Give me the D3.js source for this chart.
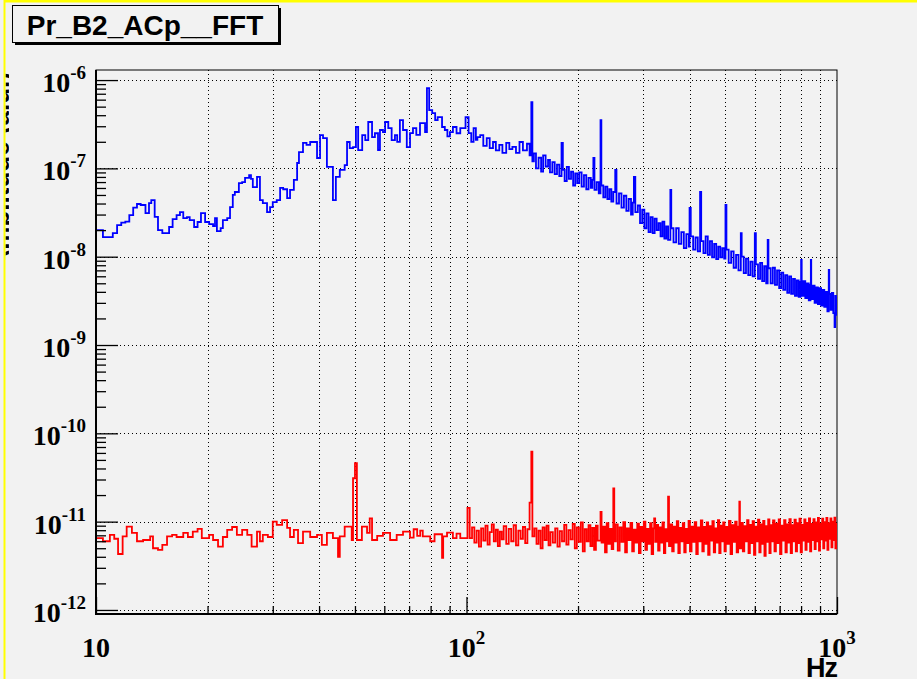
<!DOCTYPE html>
<html>
<head>
<meta charset="utf-8">
<script src="https://cdn.jsdelivr.net/npm/d3@7"></script>
<style>
  body { margin: 0; background: #f2f2f2; }
  svg { display: block; }
</style>
</head>
<body>
<svg id="chart" width="917" height="679"></svg>
<script>
// histogram title + axis stuff
const title = 'Pr_B2_ACp__FFT'
const xUnit = 'Hz'
const yTitle = 'Amplitude (a.u.)'
const yDecades = [-12, -11, -10, -9, -8, -7, -6]   // exponents of the y labels
const xDecades = [1, 2, 3]                          // 10, 10^2, 10^3

// blue channel: [Hz, amplitude in units of 1e-9]
const blueData = [
  [10.0,20],[10.44,16.7],[11.1,18.5],[11.4,22.8],[11.7,24.3],[12.0,24.9],[12.3,29.6],[12.6,35.9],
  [12.9,39.5],[13.2,38.5],[13.6,31.2],[13.9,40.5],[14.1,43.8],[14.4,28.3],[14.7,20],[15.1,18.5],
  [15.75,21.7],[16.1,26.7],[16.5,29.6],[16.85,32],[17.2,27.4],[17.6,28.1],[17.9,26],[18.4,21.7],
  [18.8,24.7],[19.2,31.2],[19.7,24.7],[20.2,23.4],[20.7,22.2],[20.95,27.4],[21.2,19.5],[21.7,21.1],
  [22.0,26],[22.6,27.4],[23.0,36.5],[23.4,50],[23.7,54],[24.3,68],[24.8,70],[25.25,78],[25.9,84],
  [26.2,76],[26.5,61.5],[27.2,80],[27.7,43.8],[28.2,40.5],[28.95,32],[29.5,36.5],[30.0,41.5],
  [30.75,43.8],[31.4,60],[32.0,58],[32.8,46],[33.4,57],[34.2,74],[34.9,115],[35.3,153],[36.2,194],
  [37.0,185],[37.85,199],[39.5,131],[40.25,238],[41.0,220],[42.0,104],[43.6,43.8],[44.4,80],[45.5,96],
  [46.9,109],[47.6,199],[48.4,170],[49.4,174],[50.3,294],[51.0,161],[52.3,238],[53.3,209],[54.3,335],
  [55.6,226],[56.6,250],[57.7,161],[58.4,272],[59.5,258],[60.3,335],[61.5,286],[62.8,209],[64.1,238],
  [65.0,200],[66.1,352],[67.4,272],[69.0,174],[70.4,251],[71.7,286],[73.2,240],[74.9,326],[77.3,258],
  [78.2,812],[79.3,457],[80.8,423],[82.3,352],[83.6,381],[85.9,294],[87.4,272],[88.8,230],[90.2,258],
  [91.9,294],[94,250],[96.2,286],[99.4,381],[101.3,251],[103,200],[104.5,286],[106,210],[107,226],
  [108.9,238],[111,180],[113.4,220],[115.5,170],[117.9,199],[120,160],[122.6,185],[125,150],[128,194],
  [130.5,165],[133,175],[136,150],[139,199],[142,160],[145.6,190],[148,140],[149.6,564],
  [150.6,120],[152,148],[154,100],[156.5,132],[159,92],[161,140],[163.5,105],[166,125],[168,90],
  [170.5,118],[173,86],[175.5,110],[178,82],[180.5,194],[182,96],[184,72],[186.5,104],[189,76],
  [191.5,92],[194,64],[196.5,88],[199,68],[201.5,90],[204.5,62],[207.5,84],[210.5,58],[213.5,78],
  [216.5,60],[218.5,74],[220,131],[221.5,57],[224.5,70],[227.5,52],[230,352],[231.2,64],[234,47],
  [237,62],[240,45],[243,58],[246,42],[249,54],[252,96],[254,40],[258,52],[262,36],[266,49],[270,33],
  [274,45],[278,30],[281,41],[283,80],[285.5,32],[290,38],[294,24],[298,34],[302,21],[306,31],[310,19],
  [314,28],[318,18.5],[322,27],[326,20],[330,24],[334,17],[338,25],[342,16],[346,22],[350,15.5],
  [355,57],[357,21],[362,14.5],[368,21],[374,14],[380,19],[386,12.5],[392,18],[398,13],[400,35.6],
  [403,17],[409,12],[415,16.5],[421,11.5],[427,54],[430,15],[436,11],[442,17],[448,10.5],[454,15],
  [460,9.8],[466,14],[472,9.4],[478,13],[484,9.8],[490,12.5],[496,9.5],[500,38.5],[503,12],[510,8.5],
  [518,11.5],[526,7.5],[534,10.5],[542,7],[550,18.5],[553,10],[560,6.5],[568,9.5],[576,6.2],[584,8.8],
  [592,6],[600,18.5],[604,8.2],[612,5.6],[620,8.5],[628,5.3],[636,7.8],[644,5],[650,15.5],[653,7.4],
  [662,5],[671,7.5],[680,4.8],[689,7],[698,4.4],[707,6.6],[716,4.2],[725,6.2],[734,3.9],[743,6],
  [752,3.8],[761,5.6],[770,3.6],[779,5.4],[788,3.5],[797,5.2],[800,9.2],[803,3.6],[812,5.3],[821,3.4],
  [830,5],[839,3.2],[848,4.8],[850,9.2],[852,3.3],[861,4.7],[870,3.0],[879,4.5],[888,2.9],[897,4.4],
  [906,2.8],[915,4.2],[924,2.7],[933,4],[942,2.4],[950,7.1],[953,3.8],[961,2.5],[969,3.9],[977,2.3],
  [985,1.6],[989,3.6],[994,2.2],[998,3.4]
]

// red channel: [Hz, amplitude in units of 1e-12]
const redData = [
  [10.0,6.5],[10.44,6.0],[10.9,7.07],[11.2,6.4],[11.47,4.3],[11.8,6.8],[12.1,8.8],[12.5,7.45],
  [12.9,6.0],[13.4,6.2],[14.0,6.8],[14.25,5.0],[14.7,4.8],[15.1,5.45],[15.55,6.8],[16.05,7.07],
  [16.5,6.7],[17.2,7.45],[17.7,6.7],[18.25,7.7],[18.8,8.3],[19.3,6.5],[20.2,7.07],[20.7,6.2],
  [21.35,5.2],[22.0,6.7],[22.6,8.05],[23.3,8.7],[24.0,7.07],[24.8,8.05],[25.6,7.07],[26.3,5.2],
  [27.2,7.7],[27.7,6.0],[28.2,7.07],[29.1,6.7],[30.0,10],[30.75,9.2],[31.8,10.4],[32.8,8.5],
  [33.4,6.7],[34.2,8.05],[35.1,5.7],[36.2,7.7],[37.85,6.7],[39.5,7.07],[40.7,5.45],[42.0,7.45],
  [43.6,6.5],[45.0,4.0],[45.5,6.8],[46.9,8.8],[49.0,6.2],[49.4,31],[50.0,46],[50.6,6.2],[52.2,8.8],
  [53.9,7.45],[54.8,10.9],[55.6,6.2],[57.4,6.9],[59.5,7.45],[62.2,6.2],[64.8,7.07],[67.4,7.7],
  [70.4,6.6],[72,8.2],[73.6,6.9],[75,7.9],[76.2,6.8],[79.8,6.0],[82,7.2],[85.9,3.9],[86.5,6.8],
  [88.6,7.5],[91.9,6.5],[94,7.3],[96.2,6.5],[100.6,14.3],[102,6.5],[103.5,8.6],[105,5.8],[106.5,7.9],
  [108,5.2],[109.5,8.4],[111,6.1],[112.5,9.0],[114,5.5],[115.5,7.6],[117,9.3],[118.5,6.0],[120,8.1],
  [121.5,5.3],[123,7.7],[124.5,6.3],[126,8.9],[128,5.6],[130,8.3],[132,6.0],[134,9.1],[136,5.4],
  [138,7.9],[140,6.4],[142,8.7],[144,5.7],[146,8.2],[148,16.4],[149.6,62],[150.6,6.8],[152.5,8.4],
  [154.5,5.6],[156.5,7.9],[158.5,5.0],[160.5,8.6],[162.5,6.2],[164.5,9.0],[166.5,5.4],[168.5,7.6],
  [171,5.8],[173.5,8.4],[176,5.2],[178.5,7.8],[181,6.0],[183.5,9.2],[186,5.5],[188.5,8.0],[191,6.3],
  [193.5,9.4],[196,5.0],[198.5,8.6],[201,5.9],[203.5,9.8],[206,4.6],[208.5,8.2],[211,6.0],[213.5,9.1],
  [216,5.3],[218.5,8.5],[221,4.8],[223.5,9.0],[226,6.1],[230,12.9],[231.5,5.8],[234,8.8],[236.5,4.5],
  [239,9.6],[241.5,5.6],[244,8.3],[246.5,4.9],[249,23.8],[250.5,6.0],[253,9.3],[256,4.7],[259,8.6],
  [262,5.9],[265,9.9],[268,4.5],[271,8.4],[274,6.2],[277,9.7],[280,4.6],[283,8.1],[286,5.8],[289,9.5],
  [292,4.4],[295,8.7],[298,6.0],[301,10.0],[304,4.8],[307,8.3],[310,5.6],[313,9.6],[316,4.3],[319,8.4],
  [321,10.9],[323,5.9],[326,9.2],[329,4.7],[332,8.6],[335,5.8],[338,9.8],[341,4.4],[344,8.2],[347,6.0],
  [350,19.2],[352,5.3],[355.5,9.3],[359,4.6],[362.5,8.8],[366,5.8],[369.5,10.1],[373,4.4],[376.5,8.5],
  [380,6.0],[383.5,9.6],[387,4.5],[390.5,8.3],[394,5.7],[397.5,10.2],[401,4.6],[405,8.8],[409,5.9],
  [413,9.9],[417,4.3],[421,8.6],[425,6.0],[429,10.3],[433,4.6],[437,8.7],[441,5.6],[445,9.8],[449,4.2],
  [453,8.9],[457,6.1],[461,10.1],[465,4.5],[469,8.4],[473,5.8],[477,10.4],[481,4.4],[485,9.0],[489,6.0],
  [493,9.8],[497,4.6],[501,8.7],[506,5.6],[511,10.2],[516,4.3],[521,9.1],[526,5.9],[531,10.0],[536,4.5],
  [541,8.8],[545,16.8],[547,5.0],[552,9.7],[557,4.6],[562,8.9],[567,6.0],[572,10.4],[577,4.4],[582,9.2],
  [587,5.7],[592,10.1],[597,4.2],[602,8.8],[607,6.0],[612,10.5],[617,4.5],[622,9.3],[627,5.6],[632,10.2],
  [637,4.1],[642,8.9],[647,5.9],[652,10.6],[657,4.4],[662,9.1],[667,6.0],[672,10.3],[678,4.6],[684,9.5],
  [690,5.7],[696,10.6],[702,4.3],[708,9.0],[714,6.1],[720,10.4],[726,4.5],[732,9.3],[738,5.8],[744,10.7],
  [750,4.4],[756,9.1],[762,6.0],[768,10.5],[774,4.6],[780,9.6],[786,5.7],[792,10.8],[798,4.5],[804,9.2],
  [810,6.1],[816,10.6],[822,4.8],[828,9.7],[834,5.9],[840,10.9],[846,4.6],[852,9.4],[858,6.2],[864,10.7],
  [870,4.9],[876,9.8],[882,6.0],[888,11.0],[894,4.7],[900,9.5],[906,6.3],[912,10.8],[918,5.0],[924,9.9],
  [930,6.1],[936,11.0],[942,4.8],[948,9.6],[954,6.4],[960,10.9],[966,5.1],[972,10.0],[978,6.2],[984,11.1],
  [990,5.0],[996,9.4]
]

const svg = d3.select('#chart')
const frame = {left: 96, right: 837, top: 70, bottom: 614}

const x = d3.scaleLog().domain([10, 1000]).range([frame.left, frame.right])
const y = d3.scaleLog().domain([9.0e-13, 1.3e-6]).range([frame.bottom, frame.top])

// frame
svg.append('rect')
  .attr('x', frame.left).attr('y', frame.top)
  .attr('width', frame.right - frame.left).attr('height', frame.bottom - frame.top)
  .attr('fill', '#f2f2f2').attr('stroke', '#000').attr('stroke-width', 1)

// grid
const minorX = []
xDecades.slice(0, 2).forEach(e => { for (let k = 1; k < 10; k++) minorX.push(k * Math.pow(10, e)) })
const decadesY = yDecades.map(e => Math.pow(10, e))
const minorY = []
yDecades.forEach(e => { for (let k = 2; k < 10; k++) { const v = k * Math.pow(10, e); if (v < y.domain()[1]) minorY.push(v) } })

const grid = svg.append('g').attr('stroke', '#000').attr('stroke-dasharray', '1,3').attr('stroke-width', 1)
grid.selectAll('.gx').data(minorX.filter(v => v > 10)).join('line')
  .attr('x1', d => Math.round(x(d)) + 0.5).attr('x2', d => Math.round(x(d)) + 0.5)
  .attr('y1', frame.top).attr('y2', frame.bottom)
grid.selectAll('.gy').data(decadesY).join('line')
  .attr('y1', d => Math.round(y(d)) + 0.5).attr('y2', d => Math.round(y(d)) + 0.5)
  .attr('x1', frame.left).attr('x2', frame.right)

// data
svg.append('clipPath').attr('id', 'clip').append('rect')
  .attr('x', frame.left).attr('y', frame.top)
  .attr('width', frame.right - frame.left).attr('height', frame.bottom - frame.top)

const stepLine = scale => d3.line()
  .x(d => x(d[0]))
  .y(d => y(d[1] * scale))
  .curve(d3.curveStepAfter)

const withEnd = data => data.concat([[1000, data[data.length - 1][1]]])

svg.append('path').datum(withEnd(redData))
  .attr('clip-path', 'url(#clip)')
  .attr('fill', 'none').attr('stroke', '#ff0000').attr('stroke-width', 1.8)
  .attr('d', stepLine(1e-12))

svg.append('path').datum(withEnd(blueData))
  .attr('clip-path', 'url(#clip)')
  .attr('fill', 'none').attr('stroke', '#0000ff').attr('stroke-width', 1.8)
  .attr('d', stepLine(1e-9))

// axes ticks
svg.append('g').attr('transform', `translate(${frame.left},0)`)
  .call(d3.axisLeft(y).tickValues(minorY).tickSize(-10).tickSizeOuter(0).tickFormat(''))
  .call(g => g.select('.domain').remove())
svg.append('g').attr('transform', `translate(${frame.left},0)`)
  .call(d3.axisLeft(y).tickValues(decadesY).tickSize(-22).tickSizeOuter(0).tickFormat(''))
  .call(g => g.select('.domain').remove())
svg.append('g').attr('transform', `translate(0,${frame.bottom})`)
  .call(d3.axisBottom(x).tickValues(minorX.filter(v => v > 10 && v !== 100)).tickSize(-8).tickSizeOuter(0).tickFormat(''))
  .call(g => g.select('.domain').remove())
svg.append('g').attr('transform', `translate(0,${frame.bottom})`)
  .call(d3.axisBottom(x).tickValues([10, 100, 1000]).tickSize(-17).tickSizeOuter(0).tickFormat(''))
  .call(g => g.select('.domain').remove())
svg.selectAll('.tick line').attr('stroke', '#000').attr('stroke-width', 1.3)

// thick axis lines
svg.append('line').attr('x1', frame.left).attr('x2', frame.left).attr('y1', frame.top).attr('y2', frame.bottom + 1)
  .attr('stroke', '#000').attr('stroke-width', 2)
svg.append('line').attr('x1', frame.left - 1).attr('x2', frame.right).attr('y1', frame.bottom).attr('y2', frame.bottom)
  .attr('stroke', '#000').attr('stroke-width', 2)

// y labels
const serif = '"Liberation Serif", "Times New Roman", serif'
yDecades.forEach(e => {
  const t = svg.append('text')
    .attr('x', 86).attr('y', y(Math.pow(10, e)) + 12)
    .attr('text-anchor', 'end')
    .attr('font-family', serif).attr('font-weight', 'bold').attr('font-size', 28)
  t.append('tspan').text('10')
  t.append('tspan').attr('dy', -13).attr('font-size', 19).text(String(e))
})

// x labels
xDecades.forEach(e => {
  const t = svg.append('text')
    .attr('x', x(Math.pow(10, e))).attr('y', 657)
    .attr('text-anchor', 'middle')
    .attr('font-family', serif).attr('font-weight', 'bold').attr('font-size', 28)
  t.append('tspan').text('10')
  if (e > 1) t.append('tspan').attr('dy', -13).attr('font-size', 19).text(String(e))
})

// x unit
svg.append('text').attr('x', frame.right).attr('y', 677).attr('text-anchor', 'end')
  .attr('font-family', 'Liberation Sans, Arial, sans-serif').attr('font-weight', 'bold')
  .attr('font-size', 27).attr('letter-spacing', -1).text(xUnit)

// y title: only a thin sliver shows at the canvas edge
svg.append('clipPath').attr('id', 'ytclip').append('rect')
  .attr('x', 5.5).attr('y', 60).attr('width', 3.5).attr('height', 200)
svg.append('g').attr('clip-path', 'url(#ytclip)')
  .append('text').attr('transform', 'translate(8.5,72) rotate(-90)')
  .attr('text-anchor', 'end')
  .attr('font-family', 'Liberation Sans, Arial, sans-serif').attr('font-weight', 'bold')
  .attr('font-size', 26).text(yTitle)

// yellow canvas border (top / left)
svg.append('rect').attr('x', 4).attr('y', 0).attr('width', 913).attr('height', 2.5).attr('fill', '#ffff00')
svg.append('rect').attr('x', 3.5).attr('y', 0).attr('width', 2).attr('height', 679).attr('fill', '#ffff00')

// title box with shadow
svg.append('rect').attr('x', 15).attr('y', 8).attr('width', 266).attr('height', 37).attr('fill', '#000')
svg.append('rect').attr('x', 12.5).attr('y', 5.5).attr('width', 266).attr('height', 37)
  .attr('fill', '#f2f2f2').attr('stroke', '#000').attr('stroke-width', 1)
svg.append('text').attr('x', 145).attr('y', 35).attr('text-anchor', 'middle')
  .attr('font-family', 'Liberation Sans, Arial, sans-serif').attr('font-weight', 'bold')
  .attr('font-size', 28).text(title)
</script>
</body>
</html>
